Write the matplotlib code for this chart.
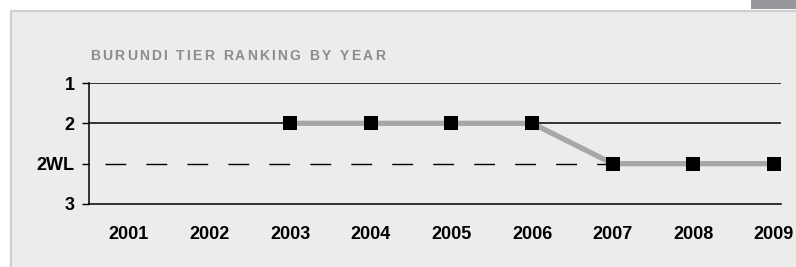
import numpy as np
import matplotlib.pyplot as plt
from matplotlib.patches import Rectangle

years = [2001, 2002, 2003, 2004, 2005, 2006, 2007, 2008, 2009]
# tier per year, no ranking for 2001-2002
ranking = [None, None, "2", "2", "2", "2", "2WL", "2WL", "2WL"]
tier_labels = ["1", "2", "2WL", "3"]
title = "BURUNDI TIER RANKING BY YEAR"

plt.rcParams['font.family'] = ['Liberation Sans', 'DejaVu Sans']

W, H = 796, 267
fig = plt.figure(figsize=(W / 100, H / 100), dpi=100)
fig.patch.set_facecolor("white")

# panel background and the little tab in the corner
fig.patches.append(Rectangle((11 / W, -0.1), 1.0, 1 - 11 / H + 0.1,
                             transform=fig.transFigure, facecolor="#ececec",
                             edgecolor="#d0d0d0", linewidth=1.6, zorder=-2))
fig.patches.append(Rectangle((751 / W, 1 - 9 / H), 1.0, 9 / H,
                             transform=fig.transFigure, facecolor="#98989c",
                             edgecolor="none", zorder=-1))

ax = fig.add_axes([89 / W, 1 - 204 / H, (781 - 89) / W, (204 - 83) / H])
ax.set_facecolor("none")

tier_pos = np.arange(len(tier_labels))
y = [tier_labels.index(r) if r is not None else np.nan for r in ranking]

ax.axhline(tier_pos[0], color="black", lw=1.1, zorder=1)
ax.axhline(tier_pos[1], color="black", lw=1.1, zorder=1)
ax.axhline(tier_pos[2], color="black", lw=1.0, linestyle=(18, (15, 14.5)), zorder=1)

ax.plot(years, y, color="#a7a7aa", lw=3.8, zorder=2,
        marker="s", markersize=10, markerfacecolor="black",
        markeredgecolor="black", markeredgewidth=0)

ax.set_xlim(2000.504, 2009.087)
ax.set_ylim(tier_pos[-1], tier_pos[0])
ax.set_xticks(years)
ax.set_xticklabels([str(v) for v in years], fontsize=13, fontweight="bold")
ax.set_yticks(tier_pos)
ax.set_yticklabels(tier_labels, fontsize=13, fontweight="bold")
ax.tick_params(axis="x", length=0, pad=16)
ax.tick_params(axis="y", length=5, width=1, pad=5.5)

for s in ["top", "right"]:
    ax.spines[s].set_visible(False)
for s in ["left", "bottom"]:
    ax.spines[s].set_linewidth(1.1)

# title with letter spacing, placed character by character
renderer = fig.canvas.get_renderer()
x = 90
for ch in title:
    t = fig.text(x / W, 1 - 60 / H, ch, fontsize=10, fontweight="bold",
                 color="#8c8c8c", ha="left", va="baseline")
    if ch == " ":
        adv = 4.5
    else:
        adv = t.get_window_extent(renderer).width
    x += adv + 2.2

fig.savefig("out.png", dpi=100)
